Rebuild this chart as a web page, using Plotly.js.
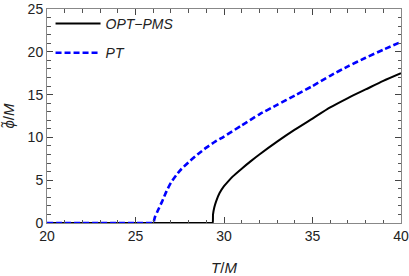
<!DOCTYPE html>
<html><head><meta charset="utf-8">
<script src="https://cdn.plot.ly/plotly-3.0.1.min.js"></script>
<style>html,body{margin:0;padding:0;background:#fff}#chart{width:409px;height:276px}</style>
</head><body><div id="chart"></div>
<script>
const tOpt = [20, 25, 29.3, 29.36, 29.38, 29.45, 29.55, 29.75, 30.0, 30.25, 30.5, 31.0, 31.5, 32, 33, 34, 35, 36, 37, 38, 39, 40];
const phiOpt = [0, 0, 0, 0, 1.0, 1.8, 2.5, 3.5, 4.3, 4.9, 5.45, 6.35, 7.2, 8.0, 9.5, 10.9, 12.2, 13.5, 14.6, 15.6, 16.6, 17.5];
const tPT = [20, 24, 25.9, 26.0, 26.1, 26.25, 26.5, 26.75, 27, 27.5, 28, 28.5, 29, 29.5, 30, 31, 32, 33, 34, 35, 36, 37, 38, 39, 40];
const phiPT = [0, 0, 0, 0, 0.7, 1.4, 2.5, 3.7, 4.7, 6.1, 7.1, 8.0, 8.8, 9.5, 10.1, 11.4, 12.7, 13.8, 14.9, 16.0, 17.2, 18.3, 19.3, 20.25, 21.15];
const names = ["OPT\u2212PMS", "PT"];
const xRange = [20, 40];
const yRange = [0, 25];

const F = "Liberation Sans, Arial, sans-serif";
const traces = [
  {x: tOpt, y: phiOpt, mode: "lines", name: names[0], legendgroup: "a",
   line: {color: "#000", width: 2, shape: "spline", smoothing: 0.6}},
  {x: tPT, y: phiPT, mode: "lines", name: names[1], legendgroup: "b",
   line: {color: "#0000ff", width: 2.6, dash: "6px,3px", shape: "spline", smoothing: 0.6}}
];
const layout = {
  width: 409, height: 276,
  margin: {l: 47, r: 8, t: 9, b: 53},
  showlegend: true,
  legend: {x: 0.01, y: 1.005, xanchor: "left", yanchor: "top", bgcolor: "rgba(0,0,0,0)",
    font: {family: F, size: 14, color: "#222", style: "italic"}, itemwidth: 45,
    traceorder: "grouped", tracegroupgap: 8},
  xaxis: {range: xRange, ticks: "inside", ticklen: 6, tickwidth: 1, tickcolor: "#444", showline: true, mirror: "allticks",
    linecolor: "#888", gridcolor: "rgba(0,0,0,0)", zerolinecolor: "rgba(0,0,0,0)",
    tickfont: {family: F, size: 14, color: "#222"},
    minor: {ticks: "inside", ticklen: 3.5, tickwidth: 1, tickcolor: "#555", dtick: 1},
    title: {text: "<i>T</i>/<i>M</i>", font: {family: F, size: 15, color: "#222"}}},
  yaxis: {range: yRange, ticks: "inside", ticklen: 6, tickwidth: 1, tickcolor: "#444", showline: true, mirror: "allticks",
    linecolor: "#888", gridcolor: "rgba(0,0,0,0)", zerolinecolor: "rgba(0,0,0,0)",
    tickfont: {family: F, size: 14, color: "#222"},
    minor: {ticks: "inside", ticklen: 3.5, tickwidth: 1, tickcolor: "#555", dtick: 1},
    title: {text: "<i>\u03D5\u0303</i>/<i>M</i>", font: {family: F, size: 15, color: "#222"}}}
};
Plotly.newPlot("chart", traces, layout, {staticPlot: true});
</script></body></html>
